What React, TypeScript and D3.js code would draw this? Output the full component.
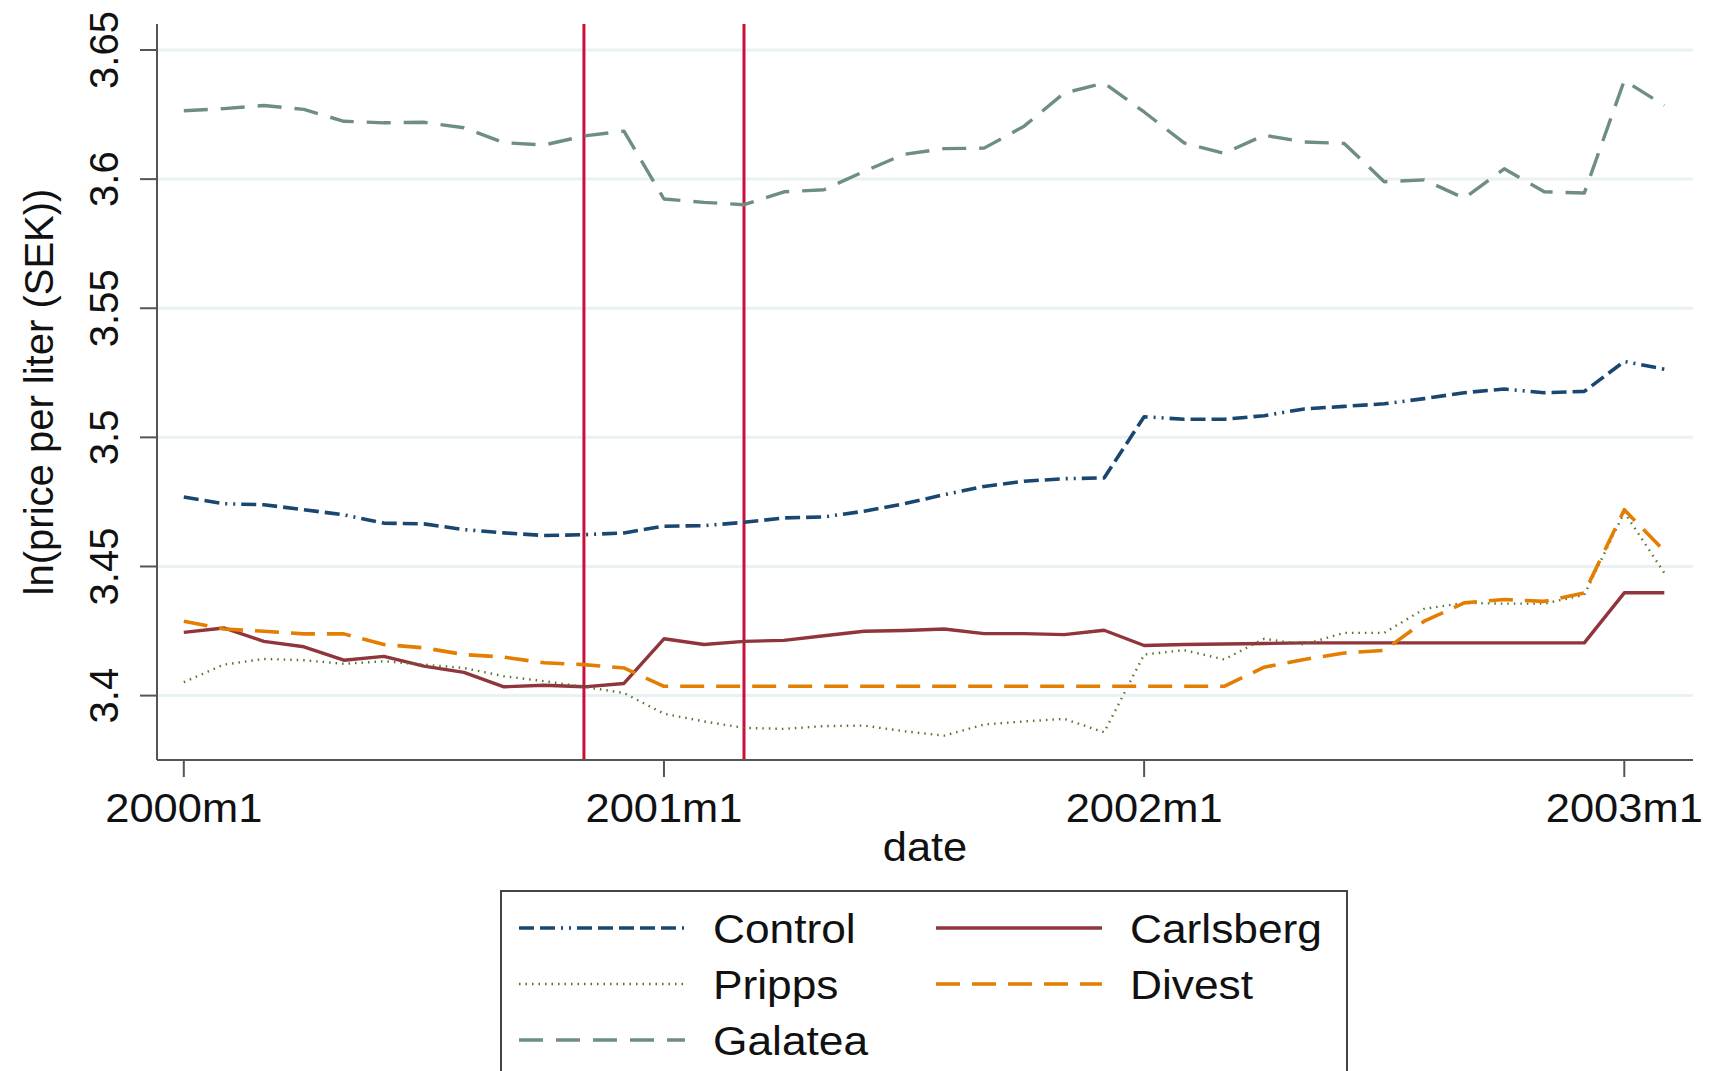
import React from 'react';
import * as d3 from 'd3';

// month index 0 = 2000m1 ... 37 = 2003m2
const months = d3.range(38);

const xTicks = [0, 12, 24, 36];
const xTickLabels = ['2000m1', '2001m1', '2002m1', '2003m1'];
const yTicks = [3.4, 3.45, 3.5, 3.55, 3.6, 3.65];
const eventMonths = [10, 14]; // 2000m11, 2001m3

const control = [3.4769, 3.4743, 3.4739, 3.472, 3.47, 3.4668, 3.4665, 3.4643, 3.463, 3.462, 3.4623, 3.463,
  3.4656, 3.4658, 3.4671, 3.4688, 3.4692, 3.4714, 3.4743, 3.4778, 3.481, 3.483, 3.484, 3.4843,
  3.508, 3.507, 3.507, 3.5084, 3.511, 3.512, 3.513, 3.515, 3.5173, 3.5187, 3.5173, 3.5178, 3.5294, 3.5264];

const carlsberg = [3.4245, 3.4262, 3.421, 3.4189, 3.4137, 3.4152, 3.4114, 3.409, 3.4034, 3.404, 3.4034, 3.4047,
  3.422, 3.4198, 3.421, 3.4214, 3.4232, 3.4249, 3.4252, 3.4258, 3.424, 3.424, 3.4236, 3.4253,
  3.4194, 3.4198, 3.42, 3.4202, 3.4204, 3.4204, 3.4204, 3.4204, 3.4204, 3.4204, 3.4204, 3.4204, 3.4398, 3.4398];

const pripps = [3.4052, 3.412, 3.4142, 3.4137, 3.4123, 3.4133, 3.412, 3.4107, 3.4075, 3.4056, 3.4034, 3.401,
  3.393, 3.39, 3.3875, 3.3871, 3.3882, 3.3884, 3.3862, 3.3845, 3.3888, 3.39, 3.391, 3.3858,
  3.4159, 3.4176, 3.414, 3.422, 3.4198, 3.4243, 3.4243, 3.4336, 3.4359, 3.4356, 3.4356, 3.439, 3.471, 3.4475];

const divest = [3.4288, 3.4258, 3.4249, 3.4239, 3.4239, 3.4198, 3.4185, 3.4159, 3.4149, 3.4127, 3.412, 3.4107,
  3.4036, 3.4036, 3.4036, 3.4036, 3.4036, 3.4036, 3.4036, 3.4036, 3.4036, 3.4036, 3.4036, 3.4036,
  3.4036, 3.4036, 3.4036, 3.411, 3.414, 3.4165, 3.4175, 3.4288, 3.4359, 3.4372, 3.4365, 3.4398, 3.472, 3.456];

const galatea = [3.6265, 3.6273, 3.6285, 3.627, 3.6224, 3.6218, 3.622, 3.6199, 3.6141, 3.6132, 3.6167, 3.6186,
  3.5923, 3.591, 3.5901, 3.5951, 3.5959, 3.603, 3.6096, 3.6118, 3.612, 3.6205, 3.6333, 3.6372,
  3.626, 3.614, 3.61, 3.617, 3.6144, 3.6138, 3.599, 3.5997, 3.5926, 3.604, 3.5951, 3.5946, 3.6382, 3.6285];

const series = [
  { name: 'Control', values: control, color: '#1a476f', width: 3.6, dash: '15 6 15 6 2 6 2 6 15 6 15 6 15 6' },
  { name: 'Carlsberg', values: carlsberg, color: '#90353b', width: 3.4, dash: null },
  { name: 'Pripps', values: pripps, color: '#55752f', width: 2.4, dash: '1.5 5' },
  { name: 'Divest', values: divest, color: '#e37e00', width: 3.6, dash: '24 12' },
  { name: 'Galatea', values: galatea, color: '#6e8e84', width: 3.4, dash: '24 13' },
];

const W = 1715;
const H = 1071;
const left = 157;
const right = 1693;
const top = 24;
const bottom = 760;
const font = '"Liberation Sans", Arial, Helvetica, sans-serif';
const stretch = 1.06; // text in the reference is a bit wider than Arial

export default function App() {
  const x = d3.scaleLinear().domain([0, 36]).range([183.8, 1624.3]);
  const y = d3.scaleLinear().domain([3.4, 3.65]).range([695.6, 50]);

  const line = d3.line<number>()
    .x((_, i) => x(months[i]))
    .y((d) => y(d));

  // legend layout: two columns, filled row by row
  const legendPos = [
    { lx: 519, tx: 713, ly: 928 },
    { lx: 936, tx: 1130, ly: 928 },
    { lx: 519, tx: 713, ly: 984 },
    { lx: 936, tx: 1130, ly: 984 },
    { lx: 519, tx: 713, ly: 1040 },
  ];

  return (
    <svg width={W} height={H} style={{ position: 'absolute', left: 0, top: 0, background: '#fff' }}
      fontFamily={font}>
      {/* grid */}
      {yTicks.map((t) => (
        <line key={'g' + t} x1={left} x2={right} y1={y(t)} y2={y(t)} stroke="#eaf1f2" strokeWidth={3} />
      ))}

      {/* event lines */}
      {eventMonths.map((m) => (
        <line key={'e' + m} x1={x(m)} x2={x(m)} y1={top} y2={bottom} stroke="#c8103a" strokeWidth={3} />
      ))}

      {/* series */}
      {series.map((s) => (
        <path key={s.name} d={line(s.values) || ''} fill="none" stroke={s.color}
          strokeWidth={s.width} strokeDasharray={s.dash || undefined} strokeLinejoin="round" />
      ))}

      {/* axes */}
      <line x1={left} x2={left} y1={top} y2={bottom} stroke="#555" strokeWidth={2} />
      <line x1={left} x2={right} y1={bottom} y2={bottom} stroke="#555" strokeWidth={2} />
      {yTicks.map((t) => (
        <g key={'yt' + t}>
          <line x1={left - 17} x2={left} y1={y(t)} y2={y(t)} stroke="#555" strokeWidth={2} />
          <text transform={`translate(118,${y(t)}) rotate(-90)`} textAnchor="middle" fontSize={40} fill="#111">
            {d3.format('')(t)}
          </text>
        </g>
      ))}
      {xTicks.map((t, i) => (
        <g key={'xt' + t}>
          <line x1={x(t)} x2={x(t)} y1={bottom} y2={bottom + 17} stroke="#555" strokeWidth={2} />
          <text transform={`translate(${x(t)},822) scale(${stretch},1)`} textAnchor="middle" fontSize={41} fill="#111">
            {xTickLabels[i]}
          </text>
        </g>
      ))}
      <text transform={`translate(${(left + right) / 2},861) scale(${stretch},1)`} textAnchor="middle"
        fontSize={41} fill="#111">date</text>
      <text transform={`translate(53,${(top + bottom) / 2}) rotate(-90)`} textAnchor="middle" fontSize={40} fill="#111">
        ln(price per liter (SEK))
      </text>

      {/* legend */}
      <rect x={501} y={891} width={846} height={220} fill="#fff" stroke="#444" strokeWidth={2} />
      {series.map((s, i) => {
        const p = legendPos[i];
        return (
          <g key={'l' + s.name}>
            <line x1={p.lx} x2={p.lx + 166} y1={p.ly} y2={p.ly} stroke={s.color}
              strokeWidth={s.width} strokeDasharray={s.dash || undefined} />
            <text transform={`translate(${p.tx},${p.ly + 15}) scale(1.08,1)`} fontSize={41} fill="#111">
              {s.name}
            </text>
          </g>
        );
      })}
    </svg>
  );
}
